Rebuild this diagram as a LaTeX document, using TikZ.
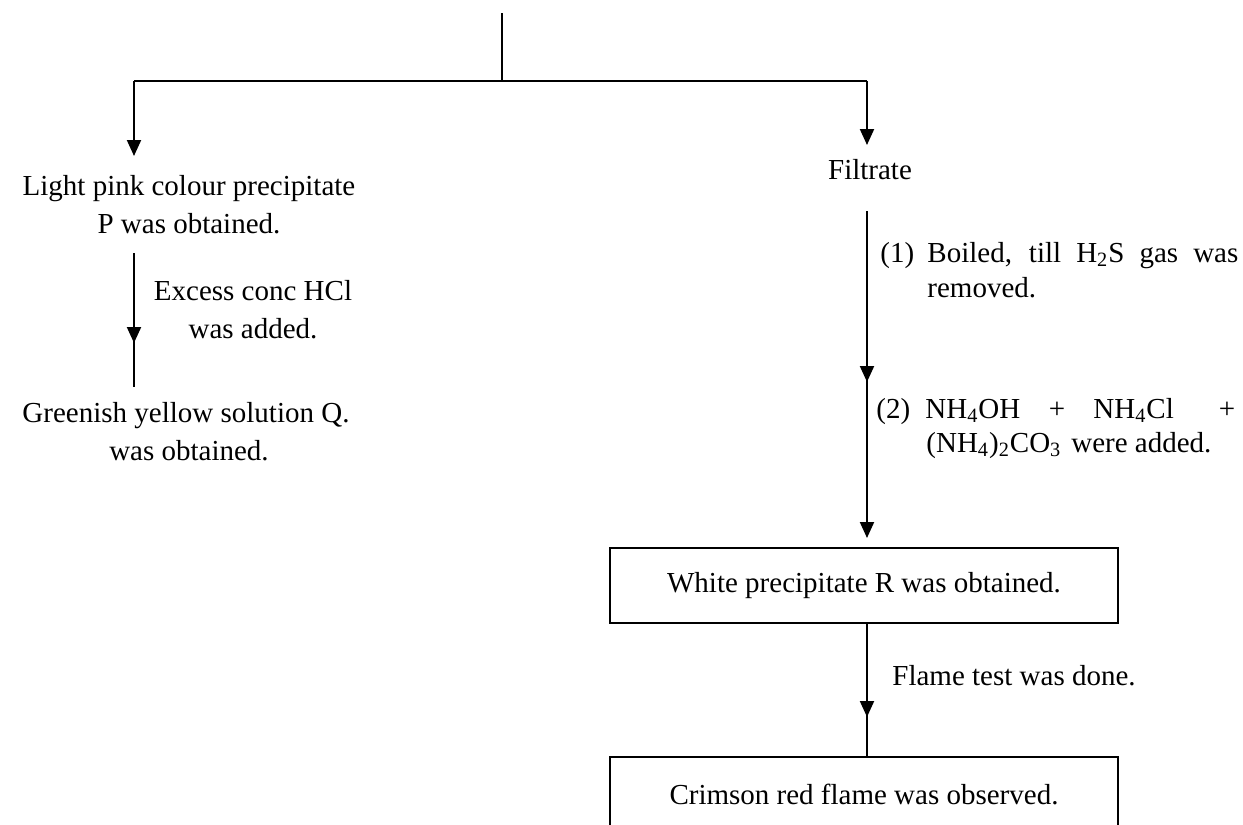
\documentclass[tikz,border=0pt]{standalone}
\usepackage{fontspec}
\setmainfont{Liberation Serif}
\usetikzlibrary{arrows.meta}
\begin{document}
\begin{tikzpicture}[x=0.5pt,y=-0.5pt,
  font=\fontsize{14.5}{19}\selectfont,
  ln/.style={line width=1pt},
  arr/.style={line width=1pt,-{Triangle[width=7pt,length=8pt]}},
  lbl/.style={inner sep=0pt, anchor=base},
  lblw/.style={inner sep=0pt, anchor=base west},
  boxnode/.style={draw, line width=1pt, minimum width=254pt, minimum height=37.5pt, inner sep=0pt}]
\useasboundingbox (0,0) rectangle (1243,825);
\clip (0,0) rectangle (1243,825);

% top split
\coordinate (top) at (502,13);
\coordinate (jn) at (502,81);
\coordinate (jl) at (134,81);
\coordinate (jr) at (867,81);
\coordinate (ltip) at (134,156);
\coordinate (rtip) at (867,145);
\draw[ln] (top) -- (jn);
\draw[ln] (jl) -- (jr);
\draw[arr] (jl) -- (ltip);
\draw[arr] (jr) -- (rtip);

% left branch
\node[lbl] (p1) at (189,195) {Light pink colour precipitate};
\node[lbl] (p2) at (189,233) {P was obtained.};
\coordinate (la) at (134,253);
\coordinate (lm) at (134,343);
\coordinate (lb) at (134,387);
\draw[ln] (la) -- (lb);
\draw[arr] (la) -- (lm);
\node[lbl] (h1) at (253,300) {Excess conc HCl};
\node[lbl] (h2) at (253,338) {was added.};
\node[lbl] (q1) at (186,422) {Greenish yellow solution Q.};
\node[lbl] (q2) at (189,460) {was obtained.};

% right branch
\node[lbl] (filt) at (870,179) {Filtrate};
\coordinate (ra) at (867,211);
\coordinate (rm) at (867,382);
\coordinate (rb) at (867,538);
\draw[arr] (ra) -- (rm);
\draw[arr] (ra) -- (rb);

\node[lblw] (n1) at (880,262) {(1)};
\node[lblw] (b1) at (927,262) {\makebox[155.5pt][s]{Boiled, till H\textsubscript{2}S gas was}};
\node[lblw] (b2) at (927,297) {removed.};

\node[lblw] (n2) at (876,418) {(2)};
\node[lblw] (c1) at (925,418) {NH\textsubscript{4}OH};
\node[lbl] (plus1) at (1057,418) {+};
\node[lblw] (c2) at (1093,418) {NH\textsubscript{4}Cl};
\node[lbl] (plus2) at (1227,418) {+};
\node[lblw] (c3) at (926,452) {(NH\textsubscript{4})\textsubscript{2}CO\textsubscript{3}\hspace{5pt}were added.};

\node[boxnode] (R) at (864,585.5) {White precipitate R was obtained.};
\node[boxnode] (C) at (864,794.5) {Crimson red flame was observed.};
\coordinate (fm) at (867,717);
\draw[ln] (ra |- R.south) -- (ra |- C.north);
\draw[arr] (ra |- R.south) -- (fm);
\node[lblw] (flame) at (892,685) {Flame test was done.};
\end{tikzpicture}
\end{document}
